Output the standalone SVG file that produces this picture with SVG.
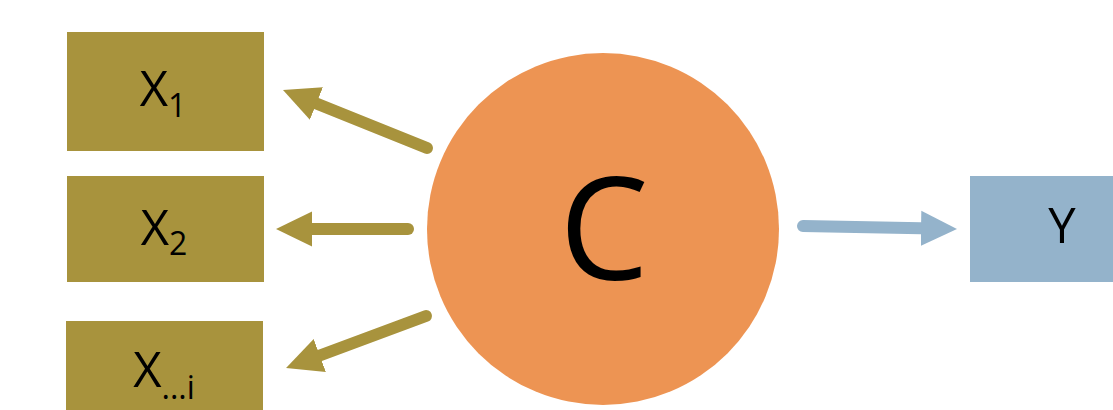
<svg xmlns="http://www.w3.org/2000/svg" width="1113" height="410" viewBox="0 0 1113 410">
<style>
.xbox{fill:#A8933D}
.ybox{fill:#94B3CB}
.lbl{font-family:"Open Sans","Noto Sans",sans-serif;fill:#000;text-anchor:middle}
.olive{stroke:#A8933D;stroke-width:12;stroke-linecap:round;fill:none}
.blue{stroke:#94B3CB;stroke-width:12;stroke-linecap:round;fill:none}
</style>
<defs>
<marker id="hO" viewBox="0 -18 36 36" markerWidth="36" markerHeight="36" refX="0" refY="0" orient="auto" markerUnits="userSpaceOnUse">
<path d="M0,-17.5 L36,0 L0,17.5 z" fill="#A8933D"/>
</marker>
<marker id="hB" viewBox="0 -18 36 36" markerWidth="36" markerHeight="36" refX="0" refY="0" orient="auto" markerUnits="userSpaceOnUse">
<path d="M0,-17.5 L36,0 L0,17.5 z" fill="#94B3CB"/>
</marker>
</defs>
<rect width="1113" height="410" fill="#fff"/>
<g id="x1">
<rect class="xbox" x="67" y="32" width="197" height="119"/>
<text class="lbl" x="163" y="106" font-size="49">X<tspan font-size="32" dy="11">1</tspan></text>
</g>
<g id="x2">
<rect class="xbox" x="67" y="176" width="197" height="106"/>
<text class="lbl" x="164" y="245" font-size="49">X<tspan font-size="32" dy="10">2</tspan></text>
</g>
<g id="xi">
<rect class="xbox" x="66" y="321" width="197" height="95"/>
<text class="lbl" x="164" y="387" font-size="49">X<tspan font-size="32" dy="12">...i</tspan></text>
</g>
<g id="y">
<rect class="ybox" x="970" y="176" width="150" height="106"/>
<text class="lbl" x="1062" y="243" font-size="49">Y</text>
</g>
<g id="c">
<circle cx="603" cy="229" r="176" fill="#ED9453"/>
<text class="lbl" x="604" y="280" font-size="142">C</text>
</g>
<g id="connectors">
<line class="olive" x1="427" y1="148" x2="316.4" y2="103.5" marker-end="url(#hO)"/>
<line class="olive" x1="408" y1="229" x2="312" y2="229" marker-end="url(#hO)"/>
<line class="olive" x1="426" y1="316" x2="319.8" y2="355.5" marker-end="url(#hO)"/>
<line class="blue" x1="803" y1="226" x2="921" y2="228.3" marker-end="url(#hB)"/>
</g>
</svg>
